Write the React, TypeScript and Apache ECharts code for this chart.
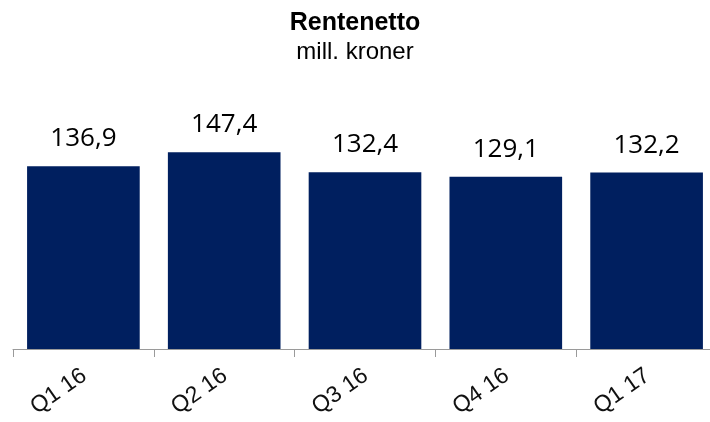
import React, { useEffect, useRef } from "react";
import * as echarts from "echarts";

const categories = ["Q1 16", "Q2 16", "Q3 16", "Q4 16", "Q1 17"];
const values = [136.9, 147.4, 132.4, 129.1, 132.2];
const titleText = "Rentenetto";
const subtitleText = "mill. kroner";

export default function App() {
  const ref = useRef<HTMLDivElement>(null);
  useEffect(() => {
    if (!ref.current) return;
    const chart = echarts.init(ref.current, null, { renderer: "svg" });
    chart.setOption({
      animation: false,
      graphic: [
        {
          type: "text",
          left: "center",
          top: 8,
          style: {
            text: titleText,
            fontFamily: "Liberation Sans",
            fontWeight: "bold",
            fontSize: 25,
            fill: "#000",
          },
        },
        {
          type: "text",
          left: "center",
          top: 38,
          style: {
            text: subtitleText,
            fontFamily: "Liberation Sans",
            fontSize: 24,
            fill: "#000",
          },
        },
      ],
      grid: {
        left: 13,
        right: -7,
        top: 82,
        bottom: 73,
        containLabel: false,
        outerBoundsMode: "none",
      },
      xAxis: {
        type: "category",
        data: categories,
        axisLine: { lineStyle: { color: "#9a9a9a", width: 1 } },
        axisTick: { show: true, length: 8, lineStyle: { color: "#9a9a9a" } },
        axisLabel: {
          rotate: 35,
          margin: 23,
          fontFamily: "Liberation Sans",
          fontSize: 23,
          color: "#111",
        },
      },
      yAxis: {
        type: "value",
        min: 0,
        max: 200,
        show: false,
        splitLine: { show: false },
      },
      series: [
        {
          type: "bar",
          data: values,
          barCategoryGap: "20%",
          itemStyle: { color: "#001f5f" },
          label: {
            show: true,
            position: "top",
            distance: 17,
            fontFamily: "Open Sans",
            fontSize: 26,
            color: "#000",
            formatter: (p: any) => p.value.toFixed(1).replace(".", ","),
          },
        },
      ],
    });
    return () => chart.dispose();
  }, []);
  return (
    <div
      ref={ref}
      style={{
        position: "fixed",
        left: 0,
        top: 0,
        width: 710,
        height: 422,
        overflow: "hidden",
      }}
    />
  );
}
